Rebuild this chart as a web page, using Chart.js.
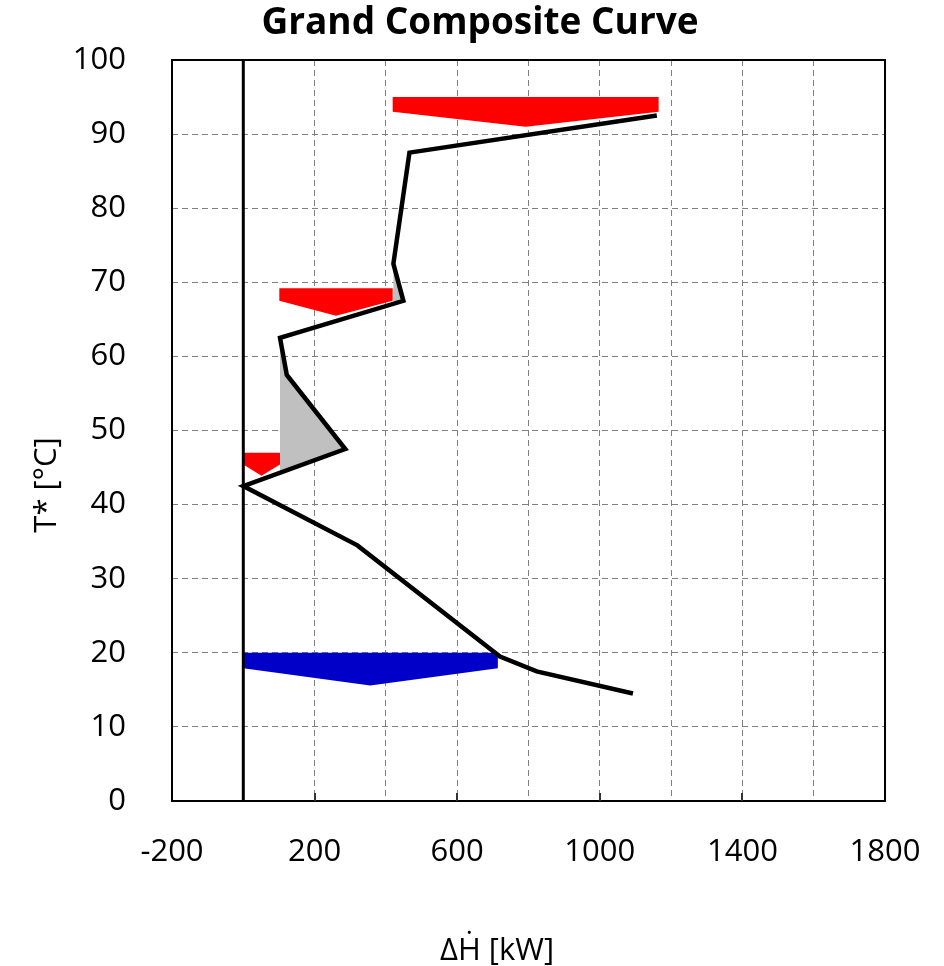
<!DOCTYPE html>
<html>
<head>
<meta charset="utf-8">
<title>Grand Composite Curve</title>
<script src="https://cdn.jsdelivr.net/npm/chart.js@4.4.1/dist/chart.umd.min.js"></script>
<style>
    html, body { margin: 0; padding: 0; background: #ffffff; }
    #gccChart { display: block; }
</style>
</head>
<body>
<canvas id="gccChart" width="944" height="966"></canvas>
<script>
/* ===========================
   DATA
=========================== */

// grand composite curve (heat flow kW, shifted temperature °C)
const gccH = [1093, 823, 720, 320, 0, 286, 122, 103, 449, 421, 466, 1160];
const gccT = [14.5, 17.5, 19.5, 34.5, 42.5, 47.5, 57.5, 62.5, 67.5, 72.5, 87.5, 92.5];

// heat recovery pockets (grey)
const pocket1H = [103, 286, 122, 103];
const pocket1T = [44.3, 47.5, 57.5, 62.5];
const pocket2H = [421, 449, 421];
const pocket2T = [67.1, 67.5, 72.5];

// hot utilities (red)
const hot1H = [419, 1165, 1165, 792, 419];
const hot1T = [95, 95, 93, 91, 93];
const hot2H = [101, 419, 419, 260, 101];
const hot2T = [69.2, 69.2, 67.5, 65.5, 67.5];
const hot3H = [0, 103, 103, 51, 0];
const hot3T = [47, 47, 45.4, 43.9, 45.4];

// cold utility (blue)
const coldH = [0, 714, 714, 356, 0];
const coldT = [20, 20, 17.9, 15.6, 17.9];

// zero heat flow line
const zeroH = [0, 0];
const zeroT = [0, 100];

// axes
const xTickLabels = [-200, 200, 600, 1000, 1400, 1800];
const xMin = -200, xMax = 1800, xStep = 200;
const yMin = 0, yMax = 100, yStep = 10;

const chartTitle = 'Grand Composite Curve';
const xTitle = 'ΔḢ [kW]';
const yTitle = 'T* [°C]';

/* ===========================
   HELPERS
=========================== */

function toPoints(hs, ts) {
    return hs.map((h, i) => ({ x: h, y: ts[i] }));
}

function shapeSet(hs, ts, fillColor, edgeColor, edgeWidth, order) {
    return {
        data: toPoints(hs, ts),
        fill: 'shape',
        backgroundColor: fillColor,
        borderColor: edgeColor,
        borderWidth: edgeWidth,
        pointRadius: 0,
        order: order
    };
}

const FONT = '"Open Sans", "Noto Sans", sans-serif';

/* ===========================
   FRAME, INWARD TICKS, TEXTS
=========================== */

const framePlugin = {
    id: 'frame',
    afterDraw(chart) {
        const { ctx, chartArea } = chart;
        const xs = chart.scales.x;

        ctx.save();
        ctx.strokeStyle = '#000000';
        ctx.lineWidth = 2;
        ctx.strokeRect(chartArea.left, chartArea.top,
            chartArea.right - chartArea.left, chartArea.bottom - chartArea.top);

        ctx.strokeStyle = '#333333';
        xTickLabels.forEach(v => {
            if (v <= xMin || v >= xMax) return;
            const px = Math.round(xs.getPixelForValue(v));
            ctx.beginPath();
            ctx.moveTo(px, chartArea.bottom);
            ctx.lineTo(px, chartArea.bottom - 8);
            ctx.stroke();
        });

        /* titles */
        ctx.fillStyle = '#000000';
        ctx.textAlign = 'center';
        ctx.textBaseline = 'alphabetic';

        ctx.font = 'bold 37px ' + FONT;
        ctx.fillText(chartTitle, 480, 34);

        ctx.font = '31px ' + FONT;
        ctx.fillText(xTitle, 497, 960);

        ctx.translate(56, 485);
        ctx.rotate(-Math.PI / 2);
        ctx.fillText(yTitle, 0, 0);

        ctx.restore();
    }
};

/* ===========================
   CHART
=========================== */

new Chart(document.getElementById('gccChart'), {
    type: 'line',
    data: {
        datasets: [
            {
                data: toPoints(gccH, gccT),
                borderColor: '#000000',
                borderWidth: 4.5,
                borderJoinStyle: 'miter',
                fill: false,
                pointRadius: 0,
                order: 0
            },
            {
                data: toPoints(zeroH, zeroT),
                borderColor: '#000000',
                borderWidth: 3,
                fill: false,
                pointRadius: 0,
                order: 1
            },
            shapeSet(pocket1H, pocket1T, '#c0c0c0', '#808080', 2, 2),
            shapeSet(pocket2H, pocket2T, '#c0c0c0', '#808080', 2, 2),
            shapeSet(hot1H, hot1T, '#ff0000', '#ff0000', 0, 3),
            shapeSet(hot2H, hot2T, '#ff0000', '#ff0000', 0, 3),
            shapeSet(hot3H, hot3T, '#ff0000', '#ff0000', 0, 3),
            shapeSet(coldH, coldT, '#0000c8', '#0000c8', 0, 3)
        ]
    },
    options: {
        responsive: false,
        animation: false,
        devicePixelRatio: 1,
        layout: { padding: { left: 0, right: 59, top: 60, bottom: 0 } },
        plugins: {
            legend: { display: false },
            tooltip: { enabled: false },
            title: { display: false }
        },
        scales: {
            x: {
                type: 'linear',
                min: xMin,
                max: xMax,
                afterFit: scale => {
                    scale.height = 165;
                    scale.paddingLeft = 0;
                    scale.paddingRight = 0;
                },
                grid: {
                    color: '#7f7f7f',
                    lineWidth: 1,
                    drawTicks: false
                },
                border: { display: false, dash: [6, 4] },
                ticks: {
                    stepSize: xStep,
                    autoSkip: false,
                    maxRotation: 0,
                    padding: 33,
                    color: '#000000',
                    font: { family: FONT, size: 31 },
                    callback: v => xTickLabels.includes(v) ? String(v) : ''
                }
            },
            y: {
                type: 'linear',
                min: yMin,
                max: yMax,
                afterFit: scale => {
                    scale.width = 172;
                    scale.paddingTop = 0;
                    scale.paddingBottom = 0;
                },
                grid: {
                    color: '#7f7f7f',
                    lineWidth: 1,
                    drawTicks: false
                },
                border: { display: false, dash: [6, 4] },
                ticks: {
                    stepSize: yStep,
                    padding: 46,
                    color: '#000000',
                    font: { family: FONT, size: 31 }
                }
            }
        }
    },
    plugins: [framePlugin]
});
</script>
</body>
</html>
